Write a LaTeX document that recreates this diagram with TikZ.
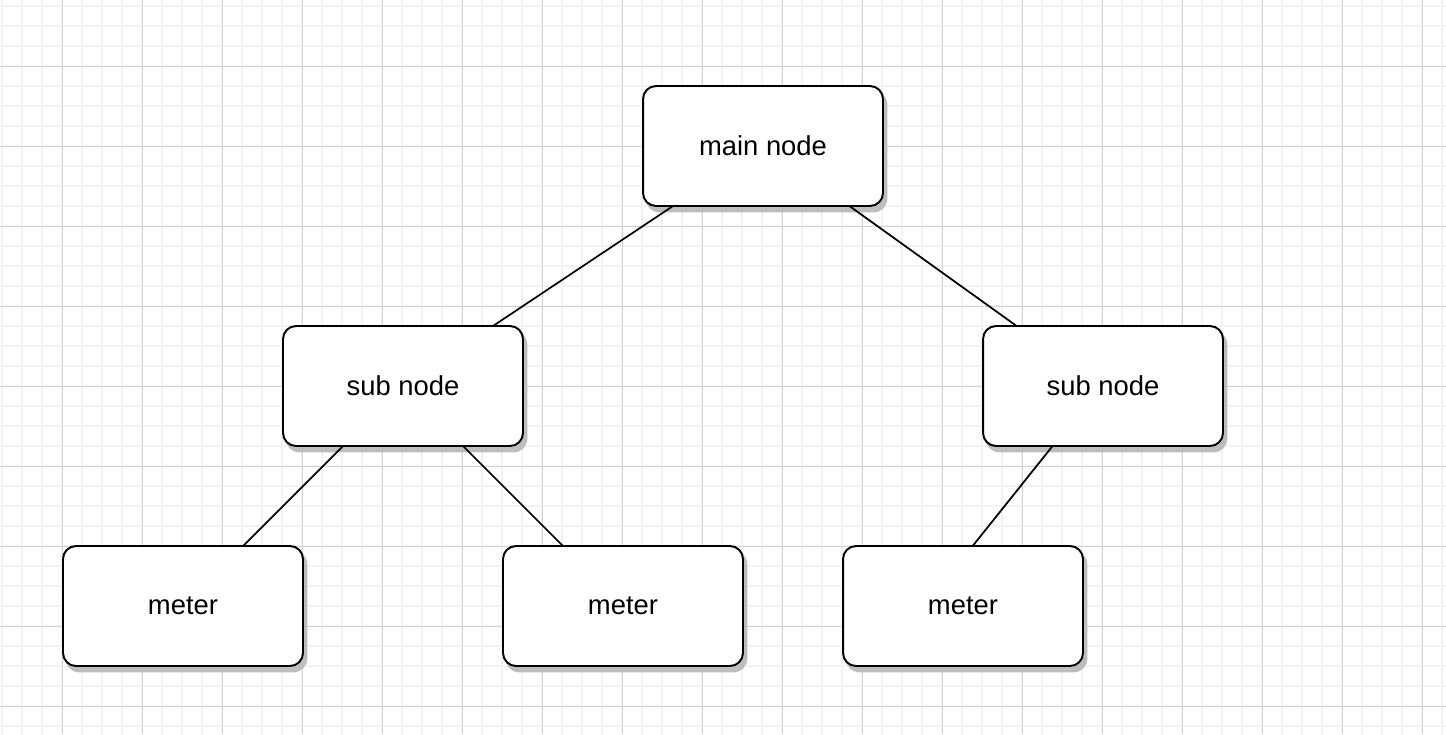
\documentclass[tikz,border=0pt]{standalone}
\usepackage{fontspec}
\setmainfont{Liberation Sans}
\usetikzlibrary{positioning, calc}
\definecolor{GridMinor}{HTML}{F2F2F2}
\definecolor{GridMajor}{HTML}{D4D4D4}
\definecolor{ShadowGray}{HTML}{BDBDBD}

\begin{document}
\begin{tikzpicture}[
    x=0.02cm,
    y=-0.02cm,
    minorgrid/.style={
        draw=GridMinor,
        line width=1pt
    },
    majorgrid/.style={
        draw=GridMajor,
        line width=0.5pt
    },
    box/.style={
        rectangle,
        rounded corners=0.26cm,
        fill=white,
        draw=black,
        line width=1.1pt,
        minimum width=4.8cm,
        minimum height=2.4cm,
        outer sep=0pt,
        text=black,
        font=\fontsize{15.6pt}{18pt}\selectfont,
        preaction={
            fill=ShadowGray,
            draw=ShadowGray,
            transform canvas={xshift=0.07cm, yshift=-0.11cm}
        }
    },
    link/.style={
        draw=black,
        line width=1pt
    }
]

\fill[white] (0,0) rectangle (1446,734);
\useasboundingbox (0,0) rectangle (1446,734);

% grid
\foreach \gx in {2,22,...,1442} \draw[minorgrid] (\gx,0) -- (\gx,734);
\foreach \gy in {6,26,...,726} \draw[minorgrid] (0,\gy) -- (1446,\gy);
\foreach \gx in {62,142,...,1422} \draw[majorgrid] (\gx,0) -- (\gx,734);
\foreach \gy in {66,146,...,706} \draw[majorgrid] (0,\gy) -- (1446,\gy);

\node[box] (main) at (763, 146) {main node};

\node[box] (subL) at (403, 386) {sub node};
\node[box] (subR) at (1103, 386) {sub node};

\node[box] (meterA) at (183, 606) {meter};
\node[box] (meterB) at (623, 606) {meter};
\node[box] (meterC) at (963, 606) {meter};

\draw[link] ($(main.south west)!0.125!(main.south east)$) -- ($(subL.north west)!0.875!(subL.north east)$);
\draw[link] ($(main.south west)!0.86!(main.south east)$) -- ($(subR.north west)!0.14!(subR.north east)$);

\draw[link] ($(subL.south west)!0.25!(subL.south east)$) -- ($(meterA.north west)!0.75!(meterA.north east)$);
\draw[link] ($(subL.south west)!0.75!(subL.south east)$) -- ($(meterB.north west)!0.25!(meterB.north east)$);

\draw[link] ($(subR.south west)!0.29!(subR.south east)$) -- ($(meterC.north west)!0.54!(meterC.north east)$);

\end{tikzpicture}
\end{document}
